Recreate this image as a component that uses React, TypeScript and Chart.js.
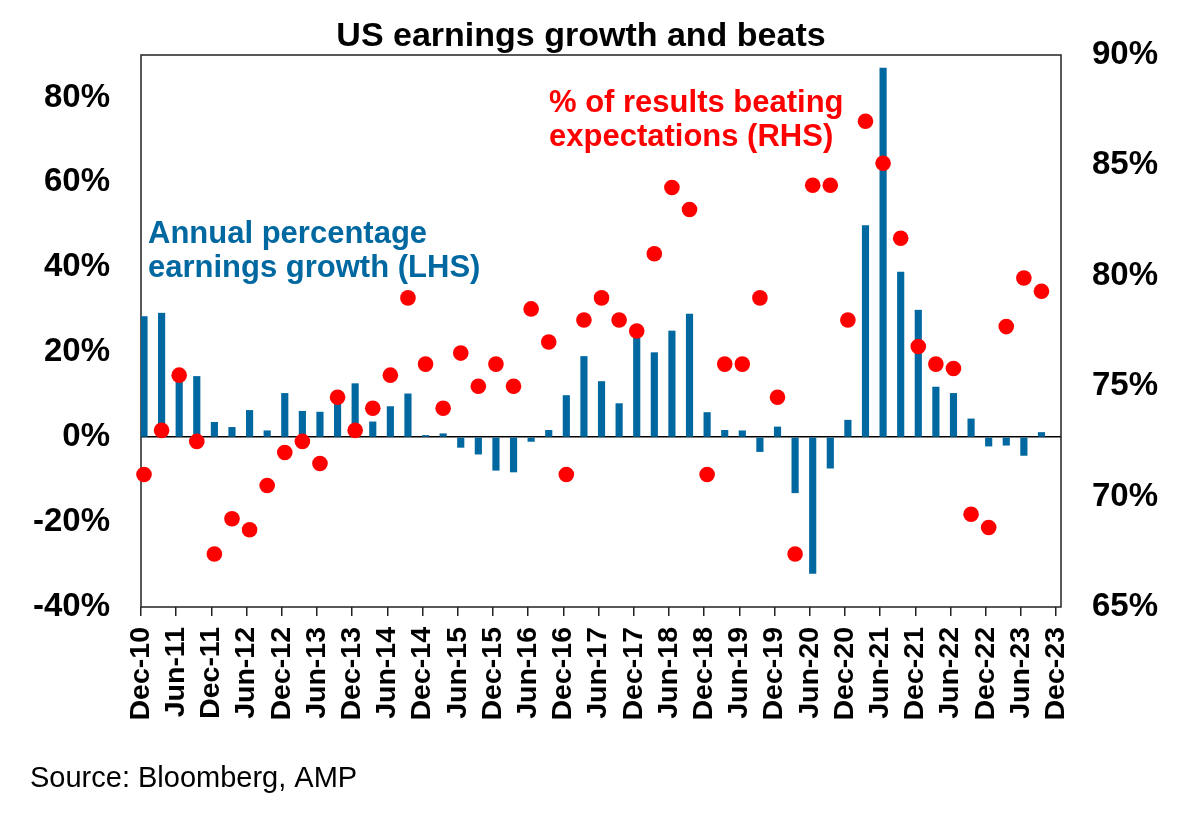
import React, { useEffect, useRef } from 'react';
import { Chart, registerables } from 'chart.js';

Chart.register(...registerables);

const quarters = [
  'Dec-10', 'Mar-11', 'Jun-11', 'Sep-11', 'Dec-11', 'Mar-12', 'Jun-12', 'Sep-12',
  'Dec-12', 'Mar-13', 'Jun-13', 'Sep-13', 'Dec-13', 'Mar-14', 'Jun-14', 'Sep-14',
  'Dec-14', 'Mar-15', 'Jun-15', 'Sep-15', 'Dec-15', 'Mar-16', 'Jun-16', 'Sep-16',
  'Dec-16', 'Mar-17', 'Jun-17', 'Sep-17', 'Dec-17', 'Mar-18', 'Jun-18', 'Sep-18',
  'Dec-18', 'Mar-19', 'Jun-19', 'Sep-19', 'Dec-19', 'Mar-20', 'Jun-20', 'Sep-20',
  'Dec-20', 'Mar-21', 'Jun-21', 'Sep-21', 'Dec-21', 'Mar-22', 'Jun-22', 'Sep-22',
  'Dec-22', 'Mar-23', 'Jun-23', 'Sep-23',
];

// Annual percentage earnings growth (LHS, %)
const earningsGrowth = [
  28.4, 29.2, 14.5, 14.3, 3.5, 2.3, 6.3, 1.5, 10.3, 6.1,
  5.9, 9.0, 12.6, 3.6, 7.2, 10.2, 0.4, 0.8, -2.4, -4.0,
  -7.8, -8.2, -1.0, 1.6, 9.8, 19.0, 13.1, 7.9, 24.5, 19.9,
  25.0, 29.0, 5.8, 1.6, 1.5, -3.4, 2.4, -13.1, -32.1, -7.3,
  4.0, 49.8, 86.9, 38.9, 29.9, 11.8, 10.3, 4.3, -2.1, -1.9,
  -4.3, 1.1,
];

// % of results beating expectations (RHS, %)
const beatRate = [
  71.0, 73.0, 75.5, 72.5, 67.4, 69.0, 68.5, 70.5, 72.0, 72.5,
  71.5, 74.5, 73.0, 74.0, 75.5, 79.0, 76.0, 74.0, 76.5, 75.0,
  76.0, 75.0, 78.5, 77.0, 71.0, 78.0, 79.0, 78.0, 77.5, 81.0,
  84.0, 83.0, 71.0, 76.0, 76.0, 79.0, 74.5, 67.4, 84.1, 84.1,
  78.0, 87.0, 85.1, 81.7, 76.8, 76.0, 75.8, 69.2, 68.6, 77.7,
  79.9, 79.3,
];

const tickLabels = [
  'Dec-10', 'Jun-11', 'Dec-11', 'Jun-12', 'Dec-12', 'Jun-13', 'Dec-13', 'Jun-14',
  'Dec-14', 'Jun-15', 'Dec-15', 'Jun-16', 'Dec-16', 'Jun-17', 'Dec-17', 'Jun-18',
  'Dec-18', 'Jun-19', 'Dec-19', 'Jun-20', 'Dec-20', 'Jun-21', 'Dec-21', 'Jun-22',
  'Dec-22', 'Jun-23', 'Dec-23',
];

const leftTicks = [-40, -20, 0, 20, 40, 60, 80];
const rightTicks = [65, 70, 75, 80, 85, 90];

const FONT = '"Liberation Sans", Arial, Helvetica, sans-serif';
const BLUE = '#0068A0';
const RED = '#FF0000';

export default function App() {
  const ref = useRef<HTMLCanvasElement>(null);

  useEffect(() => {
    if (!ref.current) return;
    Chart.defaults.font.family = FONT;
    const xOffset = 0.17;

    const decorPlugin = {
      id: 'decor',
      beforeDatasetsDraw(chart: any) {
        const { ctx, chartArea: a } = chart;
        ctx.save();
        ctx.strokeStyle = '#222';
        ctx.lineWidth = 1.5;
        ctx.strokeRect(a.left, a.top, a.right - a.left, a.bottom - a.top);
        ctx.restore();
      },
      afterDraw(chart: any) {
        const ctx = chart.ctx;
        ctx.save();
        ctx.textBaseline = 'alphabetic';
        ctx.fillStyle = '#000';
        ctx.font = `bold 34px ${FONT}`;
        ctx.textAlign = 'center';
        ctx.fillText('US earnings growth and beats', 581, 46);
        ctx.textAlign = 'left';
        ctx.font = `bold 31px ${FONT}`;
        ctx.fillStyle = RED;
        ctx.fillText('% of results beating', 549, 112);
        ctx.fillText('expectations (RHS)', 549, 146);
        ctx.fillStyle = BLUE;
        ctx.fillText('Annual percentage', 148, 243);
        ctx.fillText('earnings growth (LHS)', 148, 277);
        ctx.fillStyle = '#000';
        ctx.font = `29px ${FONT}`;
        ctx.fillText('Source: Bloomberg, AMP', 30, 787);
        ctx.restore();
      },
    };

    const chart = new Chart(ref.current, {
      type: 'bar',
      data: {
        labels: quarters,
        datasets: [
          {
            type: 'scatter',
            label: '% of results beating expectations (RHS)',
            data: beatRate.map((v, i) => ({ x: i + xOffset, y: v })),
            yAxisID: 'y1',
            xAxisID: 'x',
            backgroundColor: RED,
            borderColor: RED,
            pointBackgroundColor: RED,
            pointBorderWidth: 0,
            pointRadius: 7.8,
            pointHoverRadius: 7.8,
            showLine: false,
            order: 1,
            clip: false,
          } as any,
          {
            type: 'bar',
            label: 'Annual percentage earnings growth (LHS)',
            data: earningsGrowth.map((v, i) => ({ x: i + xOffset, y: v })),
            yAxisID: 'y',
            xAxisID: 'x',
            backgroundColor: BLUE,
            barThickness: 6.5,
            order: 2,
          } as any,
        ],
      },
      options: {
        responsive: false,
        animation: false,
        layout: { padding: { top: 55, left: 0, right: 0, bottom: 0 } },
        plugins: {
          legend: { display: false },
          tooltip: { enabled: false },
          title: { display: false },
        },
        scales: {
          x: {
            type: 'linear',
            min: 0,
            max: 52.28,
            offset: false,
            afterBuildTicks: (s: any) => {
              s.ticks = tickLabels.map((_, k) => ({ value: 2 * k }));
            },
            afterFit: (s: any) => {
              s.height = 208;
            },
            ticks: {
              autoSkip: false,
              minRotation: 90,
              maxRotation: 90,
              padding: 11,
              color: '#000',
              font: { size: 28.5, weight: 'bold' },
              callback: (v: any) => tickLabels[Math.round(Number(v) / 2)],
            },
            grid: {
              offset: false,
              drawOnChartArea: false,
              drawTicks: true,
              tickLength: 9,
              color: '#222',
              lineWidth: 1.5,
            },
            border: { display: false },
          },
          y: {
            type: 'linear',
            position: 'left',
            min: -40,
            max: 90,
            afterBuildTicks: (s: any) => {
              s.ticks = leftTicks.map((v) => ({ value: v }));
            },
            afterFit: (s: any) => {
              s.width = 141;
            },
            ticks: {
              padding: 31,
              color: '#000',
              font: { size: 33, weight: 'bold' },
              callback: (v: any) => `${v}%`,
            },
            grid: {
              drawTicks: false,
              color: (ctx: any) => (ctx.tick && ctx.tick.value === 0 ? '#000' : 'rgba(0,0,0,0)'),
              lineWidth: 1.5,
            },
            border: { display: false },
          },
          y1: {
            type: 'linear',
            position: 'right',
            min: 65,
            max: 90,
            afterBuildTicks: (s: any) => {
              s.ticks = rightTicks.map((v) => ({ value: v }));
            },
            afterFit: (s: any) => {
              s.width = 121;
            },
            ticks: {
              padding: 31,
              color: '#000',
              font: { size: 33, weight: 'bold' },
              callback: (v: any) => `${v}%`,
            },
            grid: { display: false, drawTicks: false },
            border: { display: false },
          },
        },
      } as any,
      plugins: [decorPlugin],
    });

    return () => {
      chart.destroy();
    };
  }, []);

  return (
    <div style={{ position: 'fixed', left: 0, top: 0, width: 1182, height: 815, background: '#fff' }}>
      <canvas ref={ref} width={1182} height={815} style={{ display: 'block' }} />
    </div>
  );
}
